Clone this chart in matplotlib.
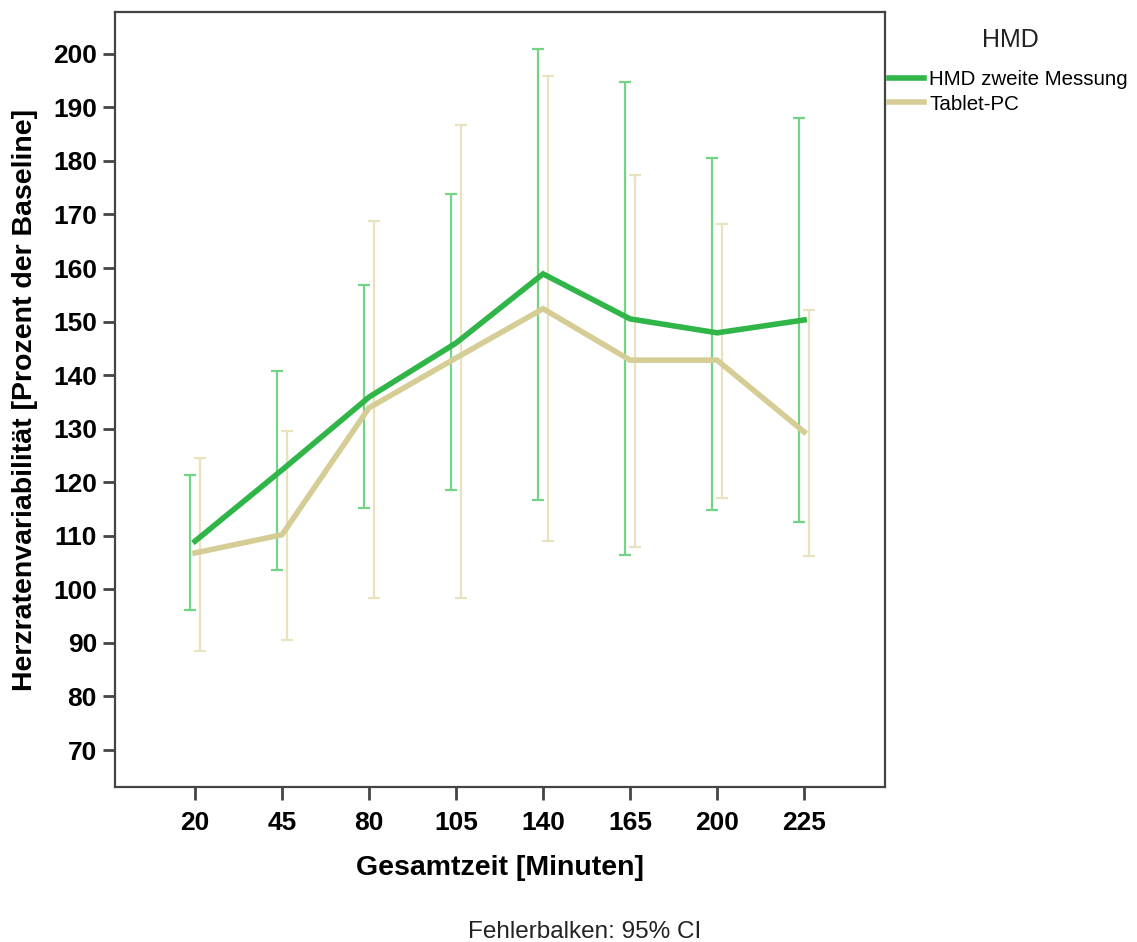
import matplotlib
matplotlib.use("Agg")
import matplotlib.pyplot as plt
from matplotlib.lines import Line2D
import numpy as np

categories = ["20", "45", "80", "105", "140", "165", "200", "225"]
hmd_mean = [109.0, 122.3, 135.9, 146.0, 158.9, 150.5, 147.9, 150.3]
hmd_low = [96.2, 103.6, 115.2, 118.6, 116.7, 106.4, 114.8, 112.6]
hmd_high = [121.4, 140.8, 156.9, 173.9, 200.9, 194.8, 180.6, 188.0]
tab_mean = [106.8, 110.2, 133.9, 143.2, 152.4, 142.8, 142.8, 129.4]
tab_low = [88.5, 90.6, 98.4, 98.4, 109.0, 107.9, 117.1, 106.2]
tab_high = [124.5, 129.6, 168.8, 186.7, 195.9, 177.4, 168.2, 152.2]
yticks = [70, 80, 90, 100, 110, 120, 130, 140, 150, 160, 170, 180, 190, 200]

GREEN = "#2fb548"
GREEN_ERR = "#74d486"
TAN = "#d5cd95"
TAN_ERR = "#e8e2bf"

plt.rcParams['font.family'] = ['Liberation Sans', 'DejaVu Sans']

fig = plt.figure(figsize=(11.37, 9.42), dpi=100)
ax = fig.add_axes([115/1137, 1-787/942, (885-115)/1137, (787-12)/942])

x = np.arange(len(categories))
off = 0.06

ax.errorbar(x - off, hmd_mean,
            yerr=[np.array(hmd_mean) - np.array(hmd_low), np.array(hmd_high) - np.array(hmd_mean)],
            fmt='none', ecolor=GREEN_ERR, elinewidth=1.6, capsize=4.5, capthick=1.6, zorder=2)
ax.errorbar(x + off, tab_mean,
            yerr=[np.array(tab_mean) - np.array(tab_low), np.array(tab_high) - np.array(tab_mean)],
            fmt='none', ecolor=TAN_ERR, elinewidth=1.6, capsize=4.5, capthick=1.6, zorder=2)
ax.plot(x, tab_mean, color=TAN, lw=4.0, solid_joinstyle='miter', zorder=3)
ax.plot(x, hmd_mean, color=GREEN, lw=4.0, solid_joinstyle='miter', zorder=4)

ax.set_xlim(-0.92, 7.93)
ax.set_ylim(63.1, 207.8)
ax.set_xticks(x)
ax.set_xticklabels(categories)
ax.set_yticks(yticks)

for lab in ax.get_xticklabels() + ax.get_yticklabels():
    lab.set_fontweight('bold')
    lab.set_fontsize(19)

ax.tick_params(axis='both', direction='out', length=9, width=2, color='#444444')
ax.tick_params(axis='y', pad=4)
ax.tick_params(axis='x', pad=8)
for s in ax.spines.values():
    s.set_color('#444444')
    s.set_linewidth(1.6)

ax.set_xlabel("Gesamtzeit [Minuten]", fontsize=20.5, fontweight='bold', va='center')
ax.xaxis.set_label_coords(0.5, -(868-787)/775)
ax.set_ylabel("Herzratenvariabilität [Prozent der Baseline]", fontsize=20.5, fontweight='bold', va='center')
ax.yaxis.set_label_coords((25-115)/770, (787-400)/775)

fig.text(585/1137, 1-932/942, "Fehlerbalken: 95% CI", ha='center', va='center', fontsize=17.5, color='#222222')

fig.text(1010/1137, 1-40/942, "HMD", ha='center', va='center', fontsize=18, color='#222222')
handles = [Line2D([], [], color=GREEN, lw=4.0), Line2D([], [], color=TAN, lw=4.0)]
leg = fig.legend(handles, ["HMD zweite Messung", "Tablet-PC"],
                 loc='center left', bbox_to_anchor=(889/1137, 1-92/942),
                 frameon=False, fontsize=14.8,
                 handlelength=1.7, handletextpad=0.25, labelspacing=0.25, borderaxespad=0,
                 borderpad=0)

fig.savefig("out.png", dpi=100)
